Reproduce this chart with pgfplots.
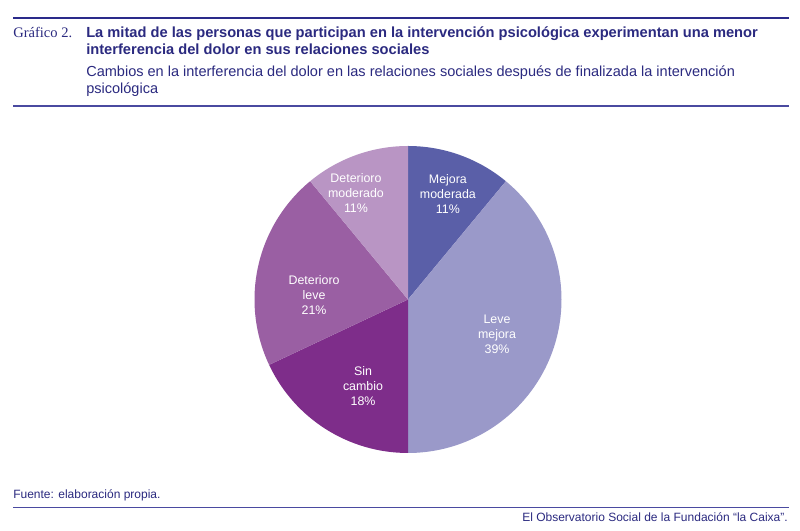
\documentclass[border=0pt]{standalone}
\usepackage{pgfplots}
\pgfplotsset{compat=1.18}
\usepackage{fontspec}
\setmainfont{Liberation Sans}
\newfontfamily\serif{Liberation Serif}
\definecolor{navy}{HTML}{2B2A80}
\definecolor{navyline}{HTML}{2A2A8A}
\definecolor{midline}{HTML}{4A4AA0}
\definecolor{cA}{HTML}{5A5FA8}
\definecolor{cB}{HTML}{9A99C9}
\definecolor{cC}{HTML}{7E2D8A}
\definecolor{cD}{HTML}{9A5FA3}
\definecolor{cE}{HTML}{B995C4}
% pie data (percent), clockwise from top
\def\pA{11}\def\pB{39}\def\pC{18}\def\pD{21}\def\pE{11}
\begin{document}
\begin{tikzpicture}
\path[use as bounding box, fill=white] (0,0) rectangle (600pt,398.25pt);
\begin{axis}[
  hide axis,
  x=115.125pt, y=115.125pt,
  xmin=-1, xmax=1, ymin=-1, ymax=1,
  anchor=center, at={(306pt,173.625pt)},
  clip=false,
]
\pgfmathsetmacro\aA{90}
\pgfmathsetmacro\aB{90-3.6*\pA}
\pgfmathsetmacro\aC{\aB-3.6*\pB}
\pgfmathsetmacro\aD{\aC-3.6*\pC}
\pgfmathsetmacro\aE{\aD-3.6*\pD}
\pgfmathsetmacro\aF{\aE-3.6*\pE}
\fill[cA] (axis cs:0,0) -- (axis cs:{cos(\aA)},{sin(\aA)}) arc[start angle=\aA, end angle=\aB, radius=115.125pt] -- cycle;
\fill[cB] (axis cs:0,0) -- (axis cs:{cos(\aB)},{sin(\aB)}) arc[start angle=\aB, end angle=\aC, radius=115.125pt] -- cycle;
\fill[cC] (axis cs:0,0) -- (axis cs:{cos(\aC)},{sin(\aC)}) arc[start angle=\aC, end angle=\aD, radius=115.125pt] -- cycle;
\fill[cD] (axis cs:0,0) -- (axis cs:{cos(\aD)},{sin(\aD)}) arc[start angle=\aD, end angle=\aE, radius=115.125pt] -- cycle;
\fill[cE] (axis cs:0,0) -- (axis cs:{cos(\aE)},{sin(\aE)}) arc[start angle=\aE, end angle=\aF, radius=115.125pt] -- cycle;
\tikzset{lab/.style={text=white, align=center, font=\fontsize{9.3}{11.25}\selectfont}}
\node[lab] at (axis cs:0.26,0.687) {Mejora\\moderada\\11\%};
\node[lab] at (axis cs:0.58,-0.225) {Leve\\mejora\\39\%};
\node[lab] at (axis cs:-0.293,-0.564) {Sin\\cambio\\18\%};
\node[lab] at (axis cs:-0.612,0.03) {Deterioro\\leve\\21\%};
\node[lab] at (axis cs:-0.339,0.694) {Deterioro\\moderado\\11\%};
\end{axis}
\begin{scope}[x=0.75pt,y=-0.75pt,yshift=398.25pt]
\draw[navyline, line width=1.5pt] (13,17.7) -- (789,17.7);
\node[anchor=base west, inner sep=0, text=navy, font=\serif\fontsize{10.9}{12}\selectfont] at (13,37.3) {Gráfico 2.};
\node[anchor=base west, inner sep=0, text=navy, font=\bfseries\fontsize{11}{12}\selectfont] at (86,37.3) {La mitad de las personas que participan en la intervención psicológica experimentan una menor};
\node[anchor=base west, inner sep=0, text=navy, font=\bfseries\fontsize{11}{12}\selectfont] at (86,55) {interferencia del dolor en sus relaciones sociales};
\node[anchor=base west, inner sep=0, text=navy, font=\fontsize{10.9}{12}\selectfont] at (86,76.7) {Cambios en la interferencia del dolor en las relaciones sociales después de finalizada la intervención};
\node[anchor=base west, inner sep=0, text=navy, font=\fontsize{10.9}{12}\selectfont] at (86,94) {psicológica};
\draw[midline, line width=1.5pt] (13,106.5) -- (789,106.5);
\node[anchor=base west, inner sep=0, text=navy, font=\fontsize{9}{10}\selectfont] at (13,498.5) {Fuente: elaboración propia.};
\draw[midline, line width=1.2pt] (13,507.5) -- (789,507.5);
\node[anchor=base east, inner sep=0, text=navy, font=\fontsize{9}{10}\selectfont] at (788,522) {El Observatorio Social de la Fundación “la Caixa”.};
\end{scope}
\end{tikzpicture}
\end{document}
